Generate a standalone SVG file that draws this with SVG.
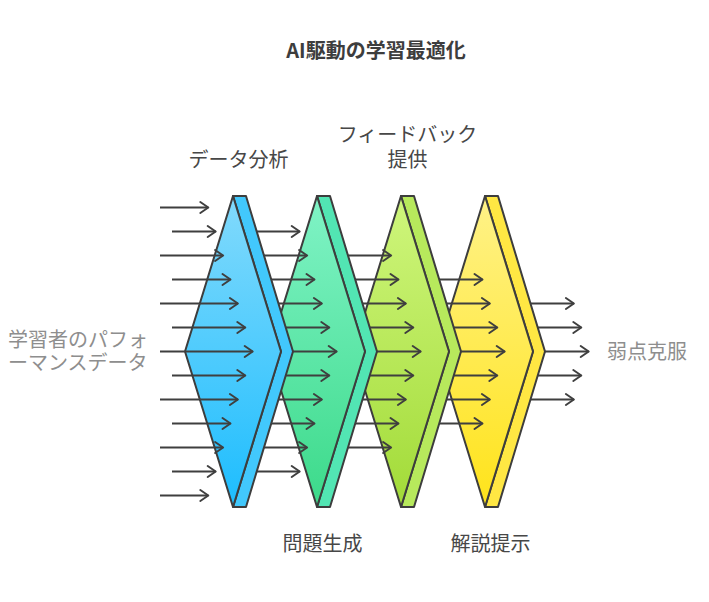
<svg xmlns="http://www.w3.org/2000/svg" width="709" height="602" viewBox="0 0 709 602">
<defs>
<linearGradient id="gBlue" x1="0" y1="0" x2="0" y2="1"><stop offset="0" stop-color="#82dafc"/><stop offset="1" stop-color="#1dbdfe"/></linearGradient>
<linearGradient id="gGreen" x1="0" y1="0" x2="0" y2="1"><stop offset="0" stop-color="#80f3c6"/><stop offset="1" stop-color="#3cda8a"/></linearGradient>
<linearGradient id="gLime" x1="0" y1="0" x2="0" y2="1"><stop offset="0" stop-color="#cff67c"/><stop offset="1" stop-color="#a2db38"/></linearGradient>
<linearGradient id="gYellow" x1="0" y1="0" x2="0" y2="1"><stop offset="0" stop-color="#fff288"/><stop offset="1" stop-color="#ffe31a"/></linearGradient>
<marker id="ah" markerUnits="userSpaceOnUse" markerWidth="12" markerHeight="14" refX="9" refY="6.5" orient="auto" overflow="visible">
<path d="M1,1 L9,6.5 L1,12" fill="none" stroke="#3f3f3f" stroke-width="2" stroke-linecap="round" stroke-linejoin="round"/>
</marker>
</defs>
<style>
.c line{stroke:#3f3f3f;stroke-width:2;marker-end:url(#ah)}
.edge{stroke:#3d3d3d;stroke-width:2;stroke-linejoin:round}
.t{font-family:"Noto Sans CJK JP","Noto Sans",sans-serif;font-size:20px}
.dark{fill:#474747}
.light{fill:#8e8e8e}
</style>
<rect width="709" height="602" fill="#ffffff"/>
<text class="t" x="376" y="58" text-anchor="middle" font-weight="bold" font-size="19" fill="#3d3d3d">AI駆動の学習最適化</text>

<g id="flow5" class="c">
<line x1="496" y1="303.5" x2="573.9" y2="303.5"/>
<line x1="508" y1="327.5" x2="581.3" y2="327.5"/>
<line x1="496" y1="351.5" x2="588.7" y2="351.5"/>
<line x1="508" y1="375.5" x2="581.3" y2="375.5"/>
<line x1="496" y1="399.5" x2="573.9" y2="399.5"/>
</g>
<g id="stage-explain">
<path class="edge" fill="#ffe743" d="M485,196 L498,196 L545,351.5 L498,507 L485,507 L533,351.5 Z"/>
<path class="edge" fill="url(#gYellow)" d="M485,196 L437,351.5 L485,507 L533,351.5 Z"/>
</g>
<g id="flow4" class="c">
<line x1="424" y1="279.5" x2="482.5" y2="279.5"/>
<line x1="412" y1="303.5" x2="489.9" y2="303.5"/>
<line x1="424" y1="327.5" x2="497.3" y2="327.5"/>
<line x1="412" y1="351.5" x2="504.7" y2="351.5"/>
<line x1="424" y1="375.5" x2="497.3" y2="375.5"/>
<line x1="412" y1="399.5" x2="489.9" y2="399.5"/>
<line x1="424" y1="423.5" x2="482.5" y2="423.5"/>
</g>
<g id="stage-feedback">
<path class="edge" fill="#b7e95c" d="M401,196 L414,196 L461,351.5 L414,507 L401,507 L449,351.5 Z"/>
<path class="edge" fill="url(#gLime)" d="M401,196 L353,351.5 L401,507 L449,351.5 Z"/>
</g>
<g id="flow3" class="c">
<line x1="328" y1="255.5" x2="391.1" y2="255.5"/>
<line x1="340" y1="279.5" x2="398.5" y2="279.5"/>
<line x1="328" y1="303.5" x2="405.9" y2="303.5"/>
<line x1="340" y1="327.5" x2="413.3" y2="327.5"/>
<line x1="328" y1="351.5" x2="420.7" y2="351.5"/>
<line x1="340" y1="375.5" x2="413.3" y2="375.5"/>
<line x1="328" y1="399.5" x2="405.9" y2="399.5"/>
<line x1="340" y1="423.5" x2="398.5" y2="423.5"/>
<line x1="328" y1="447.5" x2="391.1" y2="447.5"/>
</g>
<g id="stage-generate">
<path class="edge" fill="#52e5b3" d="M317,196 L330,196 L377,351.5 L330,507 L317,507 L365,351.5 Z"/>
<path class="edge" fill="url(#gGreen)" d="M317,196 L269,351.5 L317,507 L365,351.5 Z"/>
</g>
<g id="flow2" class="c">
<line x1="256" y1="231.5" x2="299.7" y2="231.5"/>
<line x1="244" y1="255.5" x2="307.1" y2="255.5"/>
<line x1="256" y1="279.5" x2="314.5" y2="279.5"/>
<line x1="244" y1="303.5" x2="321.9" y2="303.5"/>
<line x1="256" y1="327.5" x2="329.3" y2="327.5"/>
<line x1="244" y1="351.5" x2="336.7" y2="351.5"/>
<line x1="256" y1="375.5" x2="329.3" y2="375.5"/>
<line x1="244" y1="399.5" x2="321.9" y2="399.5"/>
<line x1="256" y1="423.5" x2="314.5" y2="423.5"/>
<line x1="244" y1="447.5" x2="307.1" y2="447.5"/>
<line x1="256" y1="471.5" x2="299.7" y2="471.5"/>
</g>
<g id="stage-analysis">
<path class="edge" fill="#42c8fc" d="M233,196 L246,196 L293,351.5 L246,507 L233,507 L281,351.5 Z"/>
<path class="edge" fill="url(#gBlue)" d="M233,196 L185,351.5 L233,507 L281,351.5 Z"/>
</g>
<g id="flow1" class="c">
<line x1="160" y1="207.5" x2="208.3" y2="207.5"/>
<line x1="172" y1="231.5" x2="215.7" y2="231.5"/>
<line x1="160" y1="255.5" x2="223.1" y2="255.5"/>
<line x1="172" y1="279.5" x2="230.5" y2="279.5"/>
<line x1="160" y1="303.5" x2="237.9" y2="303.5"/>
<line x1="172" y1="327.5" x2="245.3" y2="327.5"/>
<line x1="160" y1="351.5" x2="252.7" y2="351.5"/>
<line x1="172" y1="375.5" x2="245.3" y2="375.5"/>
<line x1="160" y1="399.5" x2="237.9" y2="399.5"/>
<line x1="172" y1="423.5" x2="230.5" y2="423.5"/>
<line x1="160" y1="447.5" x2="223.1" y2="447.5"/>
<line x1="172" y1="471.5" x2="215.7" y2="471.5"/>
<line x1="160" y1="495.5" x2="208.3" y2="495.5"/>
</g>

<g id="label-input"><text class="t light" x="8" y="347">学習者のパフォ</text><text class="t light" x="8" y="370">ーマンスデータ</text></g>
<g id="label-output"><text class="t light" x="607" y="359">弱点克服</text></g>
<g id="label-analysis"><text class="t dark" x="238.5" y="167" text-anchor="middle">データ分析</text></g>
<g id="label-feedback"><text class="t dark" x="407.5" y="142" text-anchor="middle">フィードバック</text><text class="t dark" x="407.5" y="167" text-anchor="middle">提供</text></g>
<g id="label-generate"><text class="t dark" x="322.5" y="551" text-anchor="middle">問題生成</text></g>
<g id="label-explain"><text class="t dark" x="490.5" y="551" text-anchor="middle">解説提示</text></g>
</svg>
